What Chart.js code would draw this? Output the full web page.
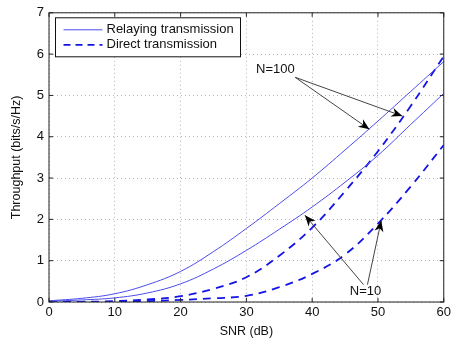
<!DOCTYPE html>
<html>
<head>
  <style>
    html, body { margin: 0; padding: 0; background: #fff; }
    #wrap { width: 454px; height: 339px; }
  </style>
</head>
<body>
  <div id="wrap"><canvas id="chart" width="454" height="339"></canvas></div>

  <script src="https://cdn.jsdelivr.net/npm/chart.js"></script>
  <script>
    // SNR in dB (x axis)
    const snr = [0, 5, 10, 15, 20, 25, 30, 35, 40, 45, 50, 55, 60];

    // throughput (bits/s/Hz)
    const relayN100 = [0.03, 0.09, 0.2, 0.42, 0.74, 1.22, 1.78, 2.38, 3.0, 3.68, 4.38, 5.1, 5.82];
    const relayN10 = [0.02, 0.05, 0.1, 0.22, 0.44, 0.8, 1.25, 1.76, 2.3, 2.9, 3.55, 4.3, 5.05];
    const directN100 = [0, 0.005, 0.02, 0.06, 0.14, 0.32, 0.6, 1.12, 1.8, 2.68, 3.65, 4.75, 5.95];
    const directN10 = [0, 0, 0.005, 0.02, 0.05, 0.09, 0.15, 0.36, 0.68, 1.15, 1.9, 2.8, 3.8];

    const xTicks = [0, 10, 20, 30, 40, 50, 60];
    const yTicks = [0, 1, 2, 3, 4, 5, 6, 7];

    const seriesLabels = ["Relaying transmission", "Direct transmission"];

    // annotations: [text, textX, textY, [[fromX, fromY, toX, toY], ...]]
    const notes = [
      ["N=100", 34.4, 5.63, [[37.4, 5.44, 48.7, 4.18], [37.4, 5.44, 53.7, 4.5]]],
      ["N=10", 48.1, 0.25, [[47.8, 0.42, 38.9, 2.1], [48.4, 0.42, 50.5, 1.97]]]
    ];

    const FONT = "'Liberation Sans', Arial, sans-serif";
    const SOLID = "#4b4bef";
    const DASHED = "#1414e6";

    function pts(arr) {
      return snr.map((x, i) => ({ x: x, y: arr[i] }));
    }

    function line(label, arr, dashed) {
      return {
        label: label,
        data: pts(arr),
        borderColor: dashed ? DASHED : SOLID,
        borderWidth: dashed ? 1.8 : 1,
        borderDash: dashed ? [8, 6] : [],
        pointRadius: 0,
        fill: false,
        tension: 0.4
      };
    }

    function arrow(ctx, x1, y1, x2, y2) {
      ctx.save();
      ctx.strokeStyle = "#444";
      ctx.lineWidth = 1;
      ctx.beginPath();
      ctx.moveTo(x1, y1);
      ctx.lineTo(x2, y2);
      ctx.stroke();
      const a = Math.atan2(y2 - y1, x2 - x1);
      const L = 11, W = 4.5;
      ctx.translate(x2, y2);
      ctx.rotate(a);
      ctx.fillStyle = "#000";
      ctx.beginPath();
      ctx.moveTo(0, 0);
      ctx.lineTo(-L, -W);
      ctx.lineTo(-L * 0.7, 0);
      ctx.lineTo(-L, W);
      ctx.closePath();
      ctx.fill();
      ctx.restore();
    }

    const matlabBits = {
      id: "matlabBits",
      afterDatasetsDraw(chart) {
        const ctx = chart.ctx;
        const a = chart.chartArea;
        const xs = chart.scales.x, ys = chart.scales.y;

        // box + inward ticks
        ctx.save();
        ctx.strokeStyle = "#222";
        ctx.lineWidth = 1;
        ctx.strokeRect(a.left, a.top, a.right - a.left, a.bottom - a.top);
        ctx.beginPath();
        xTicks.forEach(t => {
          const px = xs.getPixelForValue(t);
          ctx.moveTo(px, a.bottom); ctx.lineTo(px, a.bottom - 4);
          ctx.moveTo(px, a.top); ctx.lineTo(px, a.top + 4);
        });
        yTicks.forEach(t => {
          const py = ys.getPixelForValue(t);
          ctx.moveTo(a.left, py); ctx.lineTo(a.left + 4, py);
          ctx.moveTo(a.right, py); ctx.lineTo(a.right - 4, py);
        });
        ctx.stroke();
        ctx.restore();

        // annotations
        ctx.save();
        ctx.font = "13px " + FONT;
        ctx.fillStyle = "#111";
        ctx.textAlign = "center";
        ctx.textBaseline = "middle";
        notes.forEach(n => {
          ctx.fillText(n[0], xs.getPixelForValue(n[1]), ys.getPixelForValue(n[2]));
          n[3].forEach(s => arrow(ctx,
            xs.getPixelForValue(s[0]), ys.getPixelForValue(s[1]),
            xs.getPixelForValue(s[2]), ys.getPixelForValue(s[3])));
        });
        ctx.restore();

        // legend box, inside top-left like matlab
        const bx = a.left + 6.5, by = a.top + 5, bw = 185, bh = 39;
        ctx.save();
        ctx.fillStyle = "#fff";
        ctx.fillRect(bx, by, bw, bh);
        ctx.strokeStyle = "#111";
        ctx.lineWidth = 1;
        ctx.strokeRect(bx, by, bw, bh);
        ctx.font = "13px " + FONT;
        ctx.textBaseline = "middle";
        ctx.fillStyle = "#111";
        [0, 2].forEach((di, i) => {
          const ds = chart.data.datasets[di];
          const yy = by + 12 + i * 15;
          ctx.strokeStyle = ds.borderColor;
          ctx.lineWidth = ds.borderWidth;
          ctx.setLineDash(ds.borderDash.length ? [7, 5] : []);
          ctx.beginPath();
          ctx.moveTo(bx + 8, yy);
          ctx.lineTo(bx + 47, yy);
          ctx.stroke();
          ctx.setLineDash([]);
          ctx.fillText(seriesLabels[i], bx + 51, yy);
        });
        ctx.restore();
      }
    };

    function B() {
      const gridOpts = {
        color: "#b4b4b4",
        lineWidth: 1,
        drawTicks: false
      };

      new Chart(document.getElementById("chart").getContext("2d"), {
        type: "line",
        data: {
          datasets: [
            line(seriesLabels[0], relayN100, false),
            line(seriesLabels[0], relayN10, false),
            line(seriesLabels[1], directN100, true),
            line(seriesLabels[1], directN10, true)
          ]
        },
        options: {
          responsive: false,
          animation: false,
          layout: { padding: { top: 11, right: 9, left: 0, bottom: 0 } },
          plugins: {
            legend: { display: false },
            tooltip: { enabled: false }
          },
          scales: {
            x: {
              type: "linear",
              min: 0,
              max: 60,
              afterFit: s => { s.height = 37; },
              afterBuildTicks: s => { s.ticks = xTicks.map(v => ({ value: v })); },
              grid: Object.assign({}, gridOpts),
              border: { display: false, dash: [1, 3] },
              ticks: { color: "#111", font: { family: FONT, size: 13 }, padding: 3 },
              title: { display: true, text: "SNR (dB)", color: "#111", font: { family: FONT, size: 12.5 }, padding: { top: 1, bottom: 0 } }
            },
            y: {
              min: 0,
              max: 7,
              afterFit: s => { s.width = 49; },
              afterBuildTicks: s => { s.ticks = yTicks.map(v => ({ value: v })); },
              grid: Object.assign({}, gridOpts),
              border: { display: false, dash: [1, 3] },
              ticks: { color: "#111", font: { family: FONT, size: 13 }, padding: 5 },
              title: { display: true, text: "Throughput (bits/s/Hz)", color: "#111", font: { family: FONT, size: 12.5 }, padding: { top: 9, bottom: 4 } }
            }
          }
        },
        plugins: [matlabBits]
      });
    }
    B();
  </script>
</body>
</html>
